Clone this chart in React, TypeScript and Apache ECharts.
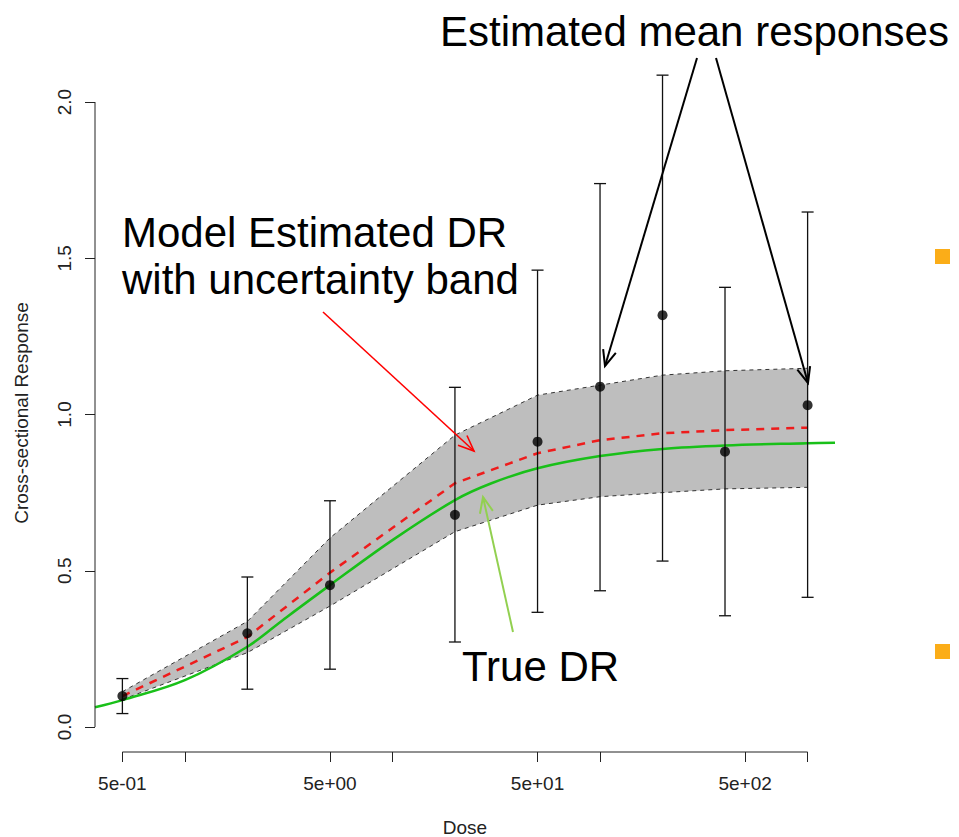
import React, { useEffect, useRef } from "react";
import * as echarts from "echarts";

// ---- data ----
const doses = [0.5, 2, 5, 20, 50, 100, 200, 400, 1000];
const meanResp = [0.099, 0.3, 0.454, 0.679, 0.913, 1.089, 1.318, 0.881, 1.03];
const ciLow = [0.043, 0.121, 0.185, 0.272, 0.367, 0.436, 0.531, 0.356, 0.415];
const ciHigh = [0.155, 0.48, 0.724, 1.087, 1.462, 1.739, 2.086, 1.407, 1.648];

const fitMean = [0.099, 0.288, 0.494, 0.78, 0.876, 0.918, 0.94, 0.95, 0.958];
const bandUpper = [0.113, 0.338, 0.605, 0.934, 1.062, 1.094, 1.126, 1.14, 1.148];
const bandLower = [0.088, 0.238, 0.387, 0.625, 0.71, 0.737, 0.75, 0.762, 0.767];

const trueDoses = [0.369, 0.5, 1, 2, 3, 5, 10, 20, 30, 50, 100, 200, 400, 1000, 1355];
const trueResp = [0.063, 0.086, 0.15, 0.257, 0.345, 0.454, 0.598, 0.726, 0.78, 0.828, 0.867, 0.89, 0.901, 0.908, 0.91];

const xTicks = [0.5, 1, 5, 10, 50, 100, 500, 1000];
const xLabels = [0.5, 5, 50, 500];
const yTicks = [0, 0.5, 1, 1.5, 2];

const X_MIN = 0.369;
const X_MAX = 1355;
const Y_MIN = -0.08;
const Y_MAX = 2.09;

const FONT = '"Liberation Sans", Arial, Helvetica, sans-serif';

function sci(v: number): string {
  const e = Math.floor(Math.log10(v) + 1e-9);
  const m = Math.round(v / Math.pow(10, e));
  const sign = e < 0 ? "-" : "+";
  return `${m}e${sign}${String(Math.abs(e)).padStart(2, "0")}`;
}

function arrow(x1: number, y1: number, x2: number, y2: number, color: string, width: number, head = 17, ang = 0.4) {
  const a = Math.atan2(y2 - y1, x2 - x1);
  const p1 = [x2 - head * Math.cos(a - ang), y2 - head * Math.sin(a - ang)];
  const p2 = [x2 - head * Math.cos(a + ang), y2 - head * Math.sin(a + ang)];
  return [
    { type: "line", shape: { x1, y1, x2, y2 }, style: { stroke: color, lineWidth: width }, z: 100 },
    { type: "polyline", shape: { points: [p1, [x2, y2], p2] }, style: { stroke: color, lineWidth: width, fill: null }, z: 100 },
  ];
}

function bigText(text: string, x: number, y: number) {
  return {
    type: "text",
    x,
    y,
    z: 100,
    style: { text, fontSize: 42, fontFamily: FONT, fill: "#000", verticalAlign: "middle", align: "left" },
  };
}

export default function App() {
  const ref = useRef<HTMLDivElement>(null);

  useEffect(() => {
    if (!ref.current) return;
    const chart = echarts.init(ref.current, null, { renderer: "svg" });
    const axisColor = "#222";
    const labelStyle = { fontSize: 19, fontFamily: FONT, color: axisColor };

    const option: any = {
      animation: false,
      backgroundColor: "#fff",
      grid: { left: 95, right: 124, top: 73.9, bottom: 85, containLabel: false, outerBoundsMode: "none" },
      xAxis: {
        type: "log",
        logBase: 10,
        min: X_MIN,
        max: X_MAX,
        axisLine: { show: false, onZero: false },
        axisTick: { show: true, length: 10, customValues: xTicks, lineStyle: { color: axisColor, width: 1 } },
        axisLabel: { customValues: xLabels, formatter: (v: number) => sci(v), margin: 22, ...labelStyle },
        splitLine: { show: false },
        minorTick: { show: false },
        name: "Dose",
        nameLocation: "middle",
        nameGap: 66,
        nameTextStyle: { ...labelStyle },
      },
      yAxis: {
        type: "value",
        min: Y_MIN,
        max: Y_MAX,
        axisLine: { show: false, onZero: false },
        axisTick: { show: true, length: 10, customValues: yTicks, lineStyle: { color: axisColor, width: 1 } },
        axisLabel: { customValues: yTicks, rotate: 90, formatter: (v: number) => v.toFixed(1), margin: 21, ...labelStyle },
        splitLine: { show: false },
        name: "Cross-sectional Response",
        nameLocation: "middle",
        nameGap: 64,
        nameRotate: 90,
        nameTextStyle: { ...labelStyle },
      },
      series: [
        {
          // uncertainty band (filled polygon through the axis scales)
          type: "custom",
          data: doses.map((d, i) => [d, bandLower[i], bandUpper[i]]),
          encode: { x: 0, y: [1, 2] },
          silent: true,
          z: 1,
          renderItem: (params: any, api: any) => {
            if (params.dataIndex !== 0) return null;
            const top = doses.map((d, i) => api.coord([d, bandUpper[i]]));
            const bottom = doses.map((d, i) => api.coord([d, bandLower[i]])).reverse();
            return {
              type: "polygon",
              shape: { points: top.concat(bottom) },
              style: { fill: "#bebebe", stroke: null },
            };
          },
        },
        {
          type: "line",
          data: doses.map((d, i) => [d, bandUpper[i]]),
          symbol: "none",
          lineStyle: { color: "#333", width: 1, type: [4, 4] },
          silent: true,
          z: 3,
        },
        {
          type: "line",
          data: doses.map((d, i) => [d, bandLower[i]]),
          symbol: "none",
          lineStyle: { color: "#333", width: 1, type: [4, 4] },
          silent: true,
          z: 3,
        },
        {
          type: "line",
          data: trueDoses.map((d, i) => [d, trueResp[i]]),
          symbol: "none",
          smooth: 0.35,
          lineStyle: { color: "#19c019", width: 2.5 },
          silent: true,
          z: 4,
        },
        {
          type: "line",
          data: doses.map((d, i) => [d, fitMean[i]]),
          symbol: "none",
          lineStyle: { color: "#ee1c1c", width: 2.5, type: [8, 7] },
          silent: true,
          z: 5,
        },
        {
          type: "custom",
          data: doses.map((d, i) => [d, ciLow[i], ciHigh[i]]),
          encode: { x: 0, y: [1, 2] },
          clip: false,
          silent: true,
          z: 6,
          renderItem: (params: any, api: any) => {
            const x = api.value(0);
            const pLo = api.coord([x, api.value(1)]);
            const pHi = api.coord([x, api.value(2)]);
            const w = 6;
            const style = { stroke: "#111", lineWidth: 1.3 };
            return {
              type: "group",
              children: [
                { type: "line", shape: { x1: pLo[0], y1: pLo[1], x2: pHi[0], y2: pHi[1] }, style },
                { type: "line", shape: { x1: pLo[0] - w, y1: pLo[1], x2: pLo[0] + w, y2: pLo[1] }, style },
                { type: "line", shape: { x1: pHi[0] - w, y1: pHi[1], x2: pHi[0] + w, y2: pHi[1] }, style },
              ],
            };
          },
        },
        {
          type: "scatter",
          data: doses.map((d, i) => [d, meanResp[i]]),
          symbol: "circle",
          symbolSize: 10,
          itemStyle: { color: "#000" },
          silent: true,
          z: 7,
        },
        {
          type: "line",
          data: [
            [X_MIN, yTicks[0]],
            [X_MIN, yTicks[yTicks.length - 1]],
          ],
          symbol: "none",
          clip: false,
          lineStyle: { color: axisColor, width: 1 },
          silent: true,
          z: 8,
        },
        {
          type: "line",
          data: [
            [xTicks[0], Y_MIN],
            [xTicks[xTicks.length - 1], Y_MIN],
          ],
          symbol: "none",
          clip: false,
          lineStyle: { color: axisColor, width: 1 },
          silent: true,
          z: 8,
        },
      ],
      graphic: [
        bigText("Estimated mean responses", 440, 31),
        bigText("Model Estimated DR", 122, 232),
        bigText("with uncertainty band", 122, 279),
        bigText("True DR", 462, 666),
        ...arrow(697, 58, 605, 366, "#000", 2),
        ...arrow(716, 58, 808, 383, "#000", 2),
        ...arrow(323, 312, 474, 451, "#ff0000", 1.6),
        ...arrow(513, 632, 483, 497, "#92d050", 2),
        { type: "rect", shape: { x: 935, y: 249, width: 15, height: 15 }, style: { fill: "#fbad18" }, z: 100 },
        { type: "rect", shape: { x: 935, y: 644, width: 15, height: 15 }, style: { fill: "#fbad18" }, z: 100 },
      ],
    };

    chart.setOption(option);
    return () => chart.dispose();
  }, []);

  return (
    <div
      ref={ref}
      style={{ position: "fixed", left: 0, top: 0, width: 959, height: 837, background: "#fff" }}
    />
  );
}
